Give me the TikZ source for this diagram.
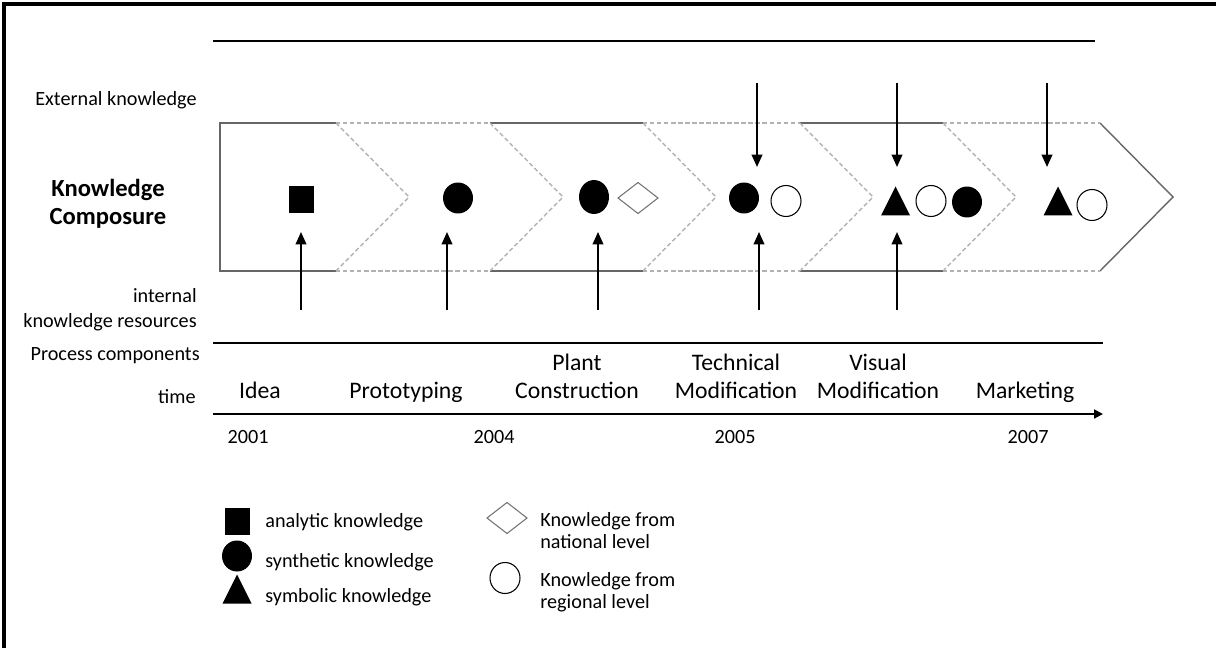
\documentclass[tikz,border=0pt]{standalone}
\usepackage{fontspec}
\setmainfont{Carlito}
\usetikzlibrary{arrows.meta}

\def\kana#1#2{ \fill (#1-12.5,#2-13.5) rectangle (#1+12.5,#2+13.5); }
\def\ksyn#1#2{ \fill (#1,#2) ellipse [x radius=0.3cm, y radius=0.31cm]; }
\def\ksym#1#2{ \fill (#1-14.5,#2+14.5) -- (#1,#2-14.5) -- (#1+14.5,#2+14.5) -- cycle; }
\def\knat#1#2{ \draw[black!55, line width=0.6pt] (#1-20,#2) -- (#1,#2-15.5) -- (#1+20,#2) -- (#1,#2+15.5) -- cycle; }
\def\kreg#1#2{ \draw[line width=0.6pt] (#1,#2) ellipse [x radius=0.3cm, y radius=0.31cm]; }

\begin{document}
\begin{tikzpicture}[x=0.02cm, y=-0.02cm,
   lbl/.style={font=\fontsize{11.5}{14}\selectfont, inner sep=0pt},
   proc/.style={font=\fontsize{13.5}{16}\selectfont, align=center, inner sep=0pt, text depth=4pt},
   leg/.style={font=\fontsize{11.5}{12.5}\selectfont, align=left, inner sep=0pt, text depth=3pt},
   flow/.style={-{Triangle[length=7pt,width=6pt]}, line width=1.1pt},
   band/.style={draw=black!60, line width=0.8pt},
   gap/.style={draw=black!30, dash pattern=on 2.5pt off 1.5pt, line width=0.8pt}]
   \useasboundingbox (0,0) rectangle (1216,648);
   % frame
   \draw[line width=2.6pt] (4,648) -- (4,4) -- (1216,4);
   \draw[line width=1.1pt] (213,41) -- (1095,41);
   % left labels
   \node[lbl, anchor=base east] (ext) at (197,106) {External knowledge};
   \node[lbl, font=\fontsize{14}{16}\bfseries, align=center, anchor=base] (comp) at (108,225) {Knowledge\\Composure};
   \node[lbl, align=right, anchor=south east, text depth=3pt] (int) at (197,333) {internal\\knowledge resources};
   \node[lbl, anchor=base east] (pc) at (200,360) {Process components};
   \node[lbl, anchor=base east] (tm) at (196,403) {time};
   % chevron band
   \draw[band] (336,123) -- (220,123) -- (220,271) -- (336,271);
   \draw[band] (490,123) -- (643,123);  \draw[band] (490,271) -- (643,271);
   \draw[band] (800,123) -- (943,123);  \draw[band] (800,271) -- (943,271);
   \draw[band] (1100,123) -- (1173,197) -- (1100,271);
   \draw[gap] (336,123) -- (490,123);  \draw[gap] (336,271) -- (490,271);
   \draw[gap] (643,123) -- (800,123);  \draw[gap] (643,271) -- (800,271);
   \draw[gap] (943,123) -- (1100,123); \draw[gap] (943,271) -- (1100,271);
   \foreach \a in {336,490,643,800,943}
      \draw[gap] (\a,123) -- (\a+73,197) -- (\a,271);
   % knowledge in each stage
   \kana{301.5}{200}
   \ksyn{458}{198}
   \fill (594,197) ellipse [x radius=0.3cm, y radius=0.34cm];
   \knat{638}{198}
   \ksyn{744}{198} \kreg{786}{201}
   \ksym{895.5}{201} \kreg{931}{201} \ksyn{967}{202}
   \ksym{1058}{201} \kreg{1092}{205}
   % arrows
   \foreach \i/\x in {1/301,2/447,3/598,4/759,5/897} {
      \coordinate (in\i) at (\x,310);
      \coordinate (tin\i) at (\x,232);
      \draw[flow] (in\i) -- (tin\i);
   }
   \foreach \i/\x in {1/757,2/897,3/1047} {
      \coordinate (ex\i) at (\x,83);
      \coordinate (tex\i) at (\x,167);
      \draw[flow] (ex\i) -- (tex\i);
   }
   % process components and time
   \coordinate (pl) at (213,343); \coordinate (pr) at (1103,343);
   \draw[line width=1.1pt] (pl) -- (pr);
   \node[proc, anchor=south] (p1) at (260,406) {Idea};
   \node[proc, anchor=south] (p2) at (406,406) {Prototyping};
   \node[proc, anchor=south] (p3) at (577,406) {Plant\\Construction};
   \node[proc, anchor=south] (p4) at (736,406) {Technical\\Modification};
   \node[proc, anchor=south] (p5) at (878,406) {Visual\\Modification};
   \node[proc, anchor=south] (p6) at (1025,406) {Marketing};
   \coordinate (tl) at (213,414); \coordinate (tr) at (1103,414);
   \draw[-{Triangle[length=5pt,width=5pt]}, line width=1.1pt] (tl) -- (tr);
   \foreach \i/\x/\y in {1/248/2001,2/494/2004,3/735/2005,4/1028/2007}
      \node[lbl, anchor=base] (y\i) at (\x,443) {\y};
   % legend
   \kana{237.5}{521.5}
   \ksyn{237}{556}
   \ksym{237}{589}
   \knat{507}{518}
   \kreg{505}{578}
   \node[lbl, anchor=base west] (l1) at (265,527) {analytic knowledge};
   \node[lbl, anchor=base west] (l2) at (265,567) {synthetic knowledge};
   \node[lbl, anchor=base west] (l3) at (265,602) {symbolic knowledge};
   \node[leg, anchor=south west] (l4) at (540,554) {Knowledge from\\national level};
   \node[leg, anchor=south west] (l5) at (540,614) {Knowledge from\\regional level};
\end{tikzpicture}
\end{document}
